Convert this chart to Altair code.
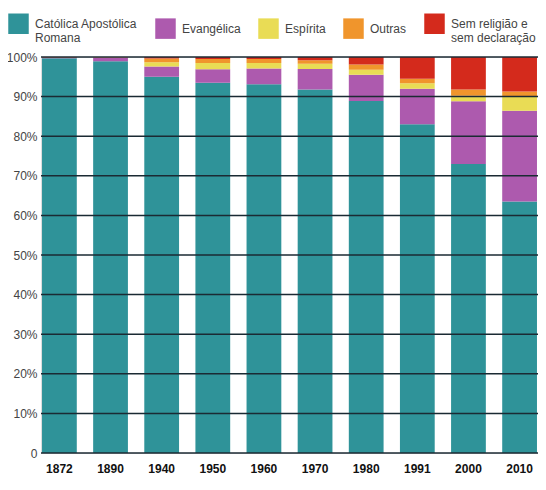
import altair as alt
import pandas as pd

years = ["1872", "1890", "1940", "1950", "1960", "1970", "1980", "1991", "2000", "2010"]
categories = ["Católica Apostólica|Romana", "Evangélica", "Espírita", "Outras", "Sem religião e|sem declaração"]
catolica = [99.7, 98.9, 95.0, 93.5, 93.1, 91.8, 88.9, 83.0, 73.0, 63.5]
evangelica = [0.1, 1.0, 2.6, 3.4, 4.0, 5.2, 6.6, 9.0, 15.8, 22.9]
espirita = [0.0, 0.0, 1.1, 1.6, 1.4, 1.3, 1.3, 1.4, 1.4, 3.5]
outras = [0.1, 0.1, 0.9, 1.0, 1.0, 0.9, 1.3, 1.1, 1.6, 1.4]
sem_religiao = [0.1, 0.0, 0.4, 0.5, 0.5, 0.8, 1.9, 5.5, 8.2, 8.7]
colors = ["#2f9399", "#ad5aae", "#e9dc55", "#f0952c", "#d42a1c"]
grid_values = [0, 10, 20, 30, 40, 50, 60, 70, 80, 90, 100]

series = [catolica, evangelica, espirita, outras, sem_religiao]
rows = []
for ci, (cat, vals) in enumerate(zip(categories, series)):
    for y, v in zip(years, vals):
        rows.append({"ano": y, "religiao": cat, "pct": v, "ordem": ci})
df = pd.DataFrame(rows)
grid = pd.DataFrame({"v": grid_values})

FONT = "Liberation Sans, Arial, sans-serif"

y_axis = alt.Axis(values=grid_values, ticks=False, domain=False, grid=False,
                  labelOverlap=False, labelFlush=False, title=None,
                  labelPadding=4, labelFont=FONT, labelFontSize=12,
                  labelColor="#444",
                  labelExpr="datum.value == 0 ? '0' : datum.value + '%'")

bars = alt.Chart(df).mark_bar().encode(
    x=alt.X("ano:N", sort=years, title=None,
            scale=alt.Scale(paddingInner=0.32, paddingOuter=0.02),
            axis=alt.Axis(labelAngle=0, ticks=False, domain=False, labelPadding=10,
                          labelFont=FONT, labelFontSize=12, labelFontWeight="bold",
                          labelColor="#111")),
    y=alt.Y("pct:Q", stack="zero", title=None,
            scale=alt.Scale(domain=[0, 100], nice=False),
            axis=y_axis),
    color=alt.Color("religiao:N", sort=categories,
                    scale=alt.Scale(domain=categories, range=colors),
                    legend=alt.Legend(title=None, orient="none", direction="horizontal",
                                      legendX=-33, legendY=-44,
                                      symbolType="square", symbolSize=420,
                                      symbolStrokeWidth=0, symbolOpacity=1,
                                      columnPadding=17, labelOffset=6,
                                      labelFont=FONT, labelFontSize=12,
                                      labelColor="#444", labelLimit=200,
                                      labelExpr="split(datum.label, '|')")),
    order=alt.Order("ordem:Q", sort="ascending"),
)

rules = alt.Chart(grid).mark_rule(color="#1b2a33", strokeWidth=1.5).encode(
    y=alt.Y("v:Q", title=None, axis=y_axis)
)

chart = alt.layer(bars, rules).properties(
    width=497, height=396,
    autosize=alt.AutoSizeParams(type="none"),
    padding={"left": 33, "top": 49, "right": 0, "bottom": 30},
).configure_view(stroke=None).configure(background="white")

chart.save("out.html", embed_options={"renderer": "svg", "actions": False})
